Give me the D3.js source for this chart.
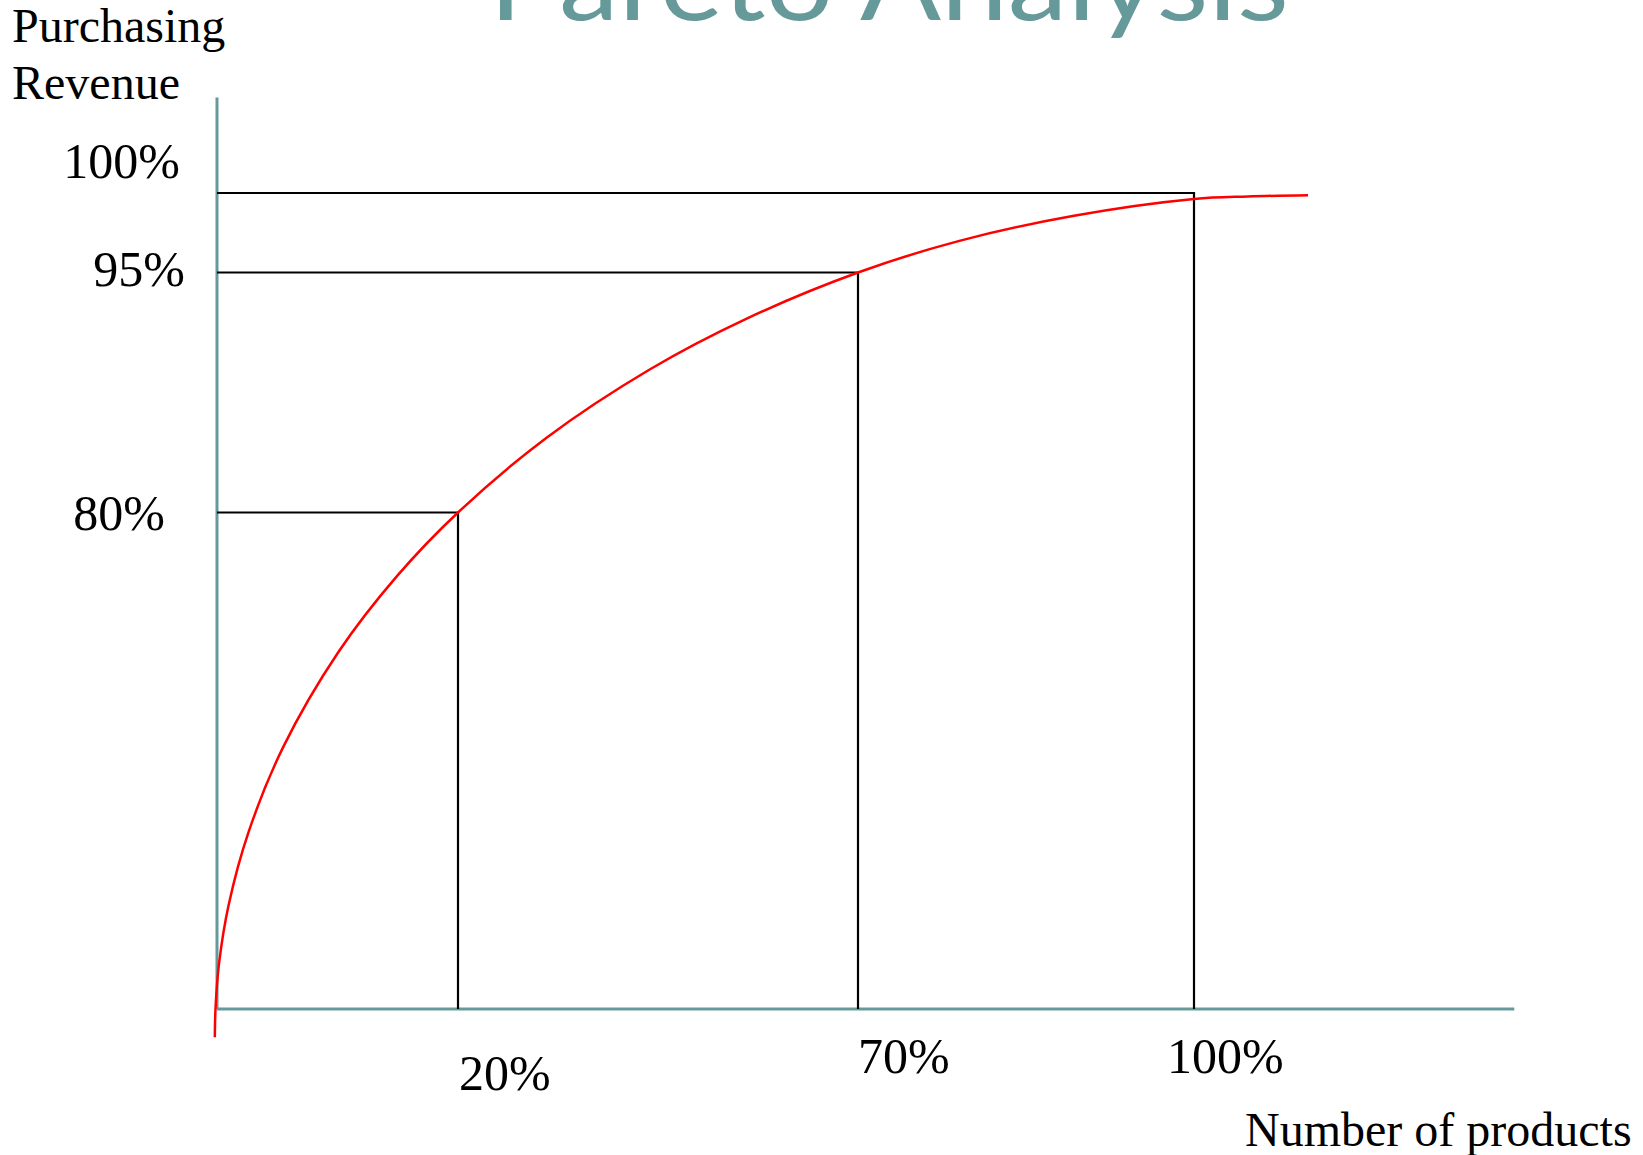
<!DOCTYPE html>
<html>
<head>
<meta charset="utf-8">
<script src="https://cdn.jsdelivr.net/npm/d3@7"></script>
<style>
  html, body { margin: 0; padding: 0; background: #ffffff; }
  svg { display: block; }
</style>
</head>
<body>
<svg id="chart" width="1643" height="1155"></svg>
<script>
// ---- Data ----
// Share of products (x, %) and cumulative share of purchasing revenue (y, %).
const xBreaks = [0, 20, 70, 100];
const yBreaks = [0, 80, 95, 100];

// Cut-off points highlighted by the guide rectangles.
const cutProducts = [20, 70, 100];
const cutRevenue  = [80, 95, 100];

// Cumulative revenue curve.
const curveX = [-0.18, -0.12, 0.17, 0.97, 2.61, 5.48, 10.05, 14.97, 20, 31.03, 43.96, 56.09, 70, 79.05, 89.16, 100, 104.8, 110.18];
const curveY = [-4.56, 0.21, 7.35, 16.81, 28.47, 42.15, 57.44, 69.82, 80, 84.66, 88.94, 92.12, 95, 96.99, 98.55, 99.62, 99.78, 99.86];

// Axis extents.
const xAxisMax = 128.6;
const yAxisMax = 106;

// Tick labels.
const xTickLabels = ["20%", "70%", "100%"];
const yTickLabels = ["100%", "95%", "80%"];
const yTickValues = [100, 95, 80];

const titleText = "Pareto Analysis";
const yTitle = ["Purchasing", "Revenue"];
const xTitle = "Number of products";

// ---- Layout ----
const teal = "#669999";
const svg = d3.select("#chart");

// Piecewise scales: the cut-off values are spread out along each axis.
const x = d3.scaleLinear().domain(xBreaks).range([217, 458, 858, 1194]);
const y = d3.scaleLinear().domain(yBreaks).range([1009, 512.5, 272.5, 193]);

// Label nudges relative to their tick positions.
const xLabelNudge = [{dx: 1, dy: 81}, {dx: 0, dy: 64}, {dx: -27, dy: 64}];
const yLabelNudge = [{x: 180, dy: -15}, {x: 185, dy: 13.5}, {x: 165, dy: 17.5}];

// Title
svg.append("text")
  .attr("x", 489)
  .attr("y", 20)
  .attr("textLength", 800)
  .attr("lengthAdjust", "spacingAndGlyphs")
  .attr("font-family", "Lato, 'Open Sans', sans-serif")
  .attr("font-size", 106)
  .attr("fill", teal)
  .text(titleText);

// Axes
svg.append("line")
  .attr("x1", x(0)).attr("x2", x(0))
  .attr("y1", y(yAxisMax)).attr("y2", y(0))
  .attr("stroke", teal).attr("stroke-width", 3);
svg.append("line")
  .attr("x1", x(0)).attr("x2", x(xAxisMax))
  .attr("y1", y(0)).attr("y2", y(0))
  .attr("stroke", teal).attr("stroke-width", 3);

// Guide rectangles: horizontal from the y axis, vertical down to the x axis
const guides = svg.append("g").attr("stroke", "#000").attr("stroke-width", 2.2).attr("fill", "none");
cutProducts.forEach((px, i) => {
  const ry = cutRevenue[i];
  guides.append("path")
    .attr("d", `M${x(0)},${y(ry)}H${x(px)}V${y(0)}`);
});

// Cumulative curve
const pts = curveX.map((v, i) => [v, curveY[i]]);
svg.append("path")
  .datum(pts)
  .attr("fill", "none")
  .attr("stroke", "#ff0000")
  .attr("stroke-width", 2.5)
  .attr("d", d3.line().x(d => x(d[0])).y(d => y(d[1])).curve(d3.curveCatmullRom.alpha(0.5)));

// Tick labels
const serif = "'Liberation Serif', 'Times New Roman', serif";
svg.append("g").selectAll("text")
  .data(cutProducts)
  .join("text")
  .attr("x", (d, i) => x(d) + xLabelNudge[i].dx)
  .attr("y", (d, i) => y(0) + xLabelNudge[i].dy)
  .attr("font-family", serif)
  .attr("font-size", 50)
  .attr("fill", "#000")
  .text((d, i) => xTickLabels[i]);

svg.append("g").selectAll("text")
  .data(yTickValues)
  .join("text")
  .attr("x", (d, i) => yLabelNudge[i].x)
  .attr("y", (d, i) => y(d) + yLabelNudge[i].dy)
  .attr("text-anchor", "end")
  .attr("font-family", serif)
  .attr("font-size", 50)
  .attr("fill", "#000")
  .text((d, i) => yTickLabels[i]);

// Axis titles
svg.append("g").selectAll("text")
  .data(yTitle)
  .join("text")
  .attr("x", 12)
  .attr("y", (d, i) => 42 + i * 57)
  .attr("font-family", serif)
  .attr("font-size", 48)
  .attr("fill", "#000")
  .text(d => d);

svg.append("text")
  .attr("x", 1245)
  .attr("y", 1146)
  .attr("font-family", serif)
  .attr("font-size", 48)
  .attr("fill", "#000")
  .text(xTitle);
</script>
</body>
</html>
